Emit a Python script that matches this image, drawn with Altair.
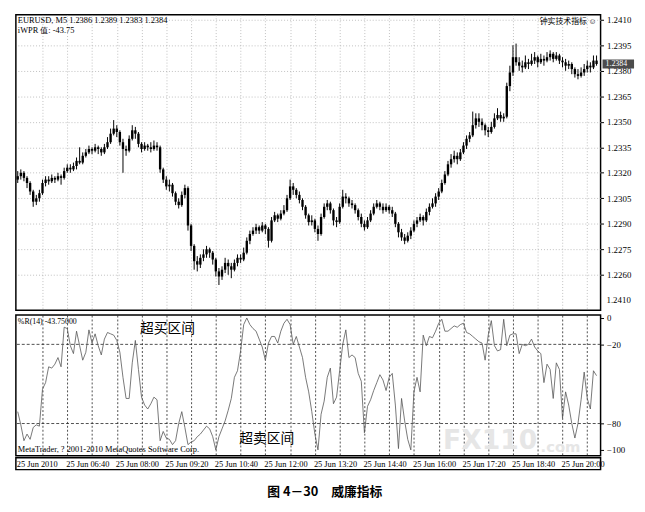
import altair as alt
import pandas as pd

SERIF = "Liberation Serif"
CJK = "Noto Sans CJK SC"

# EURUSD M5 candles, 25 Jun 2010 05:20 - 20:55
opens = [
    1.2316, 1.2318, 1.2320, 1.2317, 1.2314, 1.2309, 1.2303, 1.2305, 1.2308, 1.2314, 1.2316, 1.2315,
    1.2317, 1.2316, 1.2318, 1.2317, 1.2321, 1.2323, 1.2322, 1.2324, 1.2327, 1.2326, 1.2330, 1.2332,
    1.2334, 1.2333, 1.2335, 1.2334, 1.2332, 1.2335, 1.2338, 1.2343, 1.2346, 1.2344, 1.2338, 1.2334,
    1.2333, 1.2340, 1.2345, 1.2343, 1.2337, 1.2334, 1.2336, 1.2335, 1.2334, 1.2336, 1.2335, 1.2322,
    1.2316, 1.2312, 1.2313, 1.2308, 1.2303, 1.2301, 1.2307, 1.2311, 1.2289, 1.2277, 1.2268, 1.2266,
    1.2270, 1.2272, 1.2275, 1.2273, 1.2269, 1.2262, 1.2259, 1.2263, 1.2267, 1.2265, 1.2263, 1.2267,
    1.2270, 1.2269, 1.2273, 1.2280, 1.2284, 1.2286, 1.2288, 1.2286, 1.2289, 1.2287, 1.2280, 1.2292,
    1.2295, 1.2293, 1.2296, 1.2298, 1.2305, 1.2312, 1.2310, 1.2307, 1.2304, 1.2300, 1.2295, 1.2291,
    1.2292, 1.2287, 1.2284, 1.2294, 1.2300, 1.2302, 1.2298, 1.2292, 1.2291, 1.2300, 1.2306, 1.2305,
    1.2302, 1.2301, 1.2298, 1.2294, 1.2290, 1.2288, 1.2292, 1.2296, 1.2300, 1.2302, 1.2300, 1.2298,
    1.2300, 1.2298, 1.2296, 1.2290, 1.2285, 1.2282, 1.2280, 1.2283, 1.2286, 1.2290, 1.2292, 1.2294,
    1.2292, 1.2297, 1.2300, 1.2302, 1.2306, 1.2309, 1.2314, 1.2319, 1.2325, 1.2328, 1.2330, 1.2328,
    1.2332, 1.2336, 1.2340, 1.2342, 1.2348, 1.2352, 1.2350, 1.2348, 1.2345, 1.2344, 1.2347, 1.2352,
    1.2354, 1.2352, 1.2353, 1.2371, 1.2379, 1.2388, 1.2385, 1.2383, 1.2382, 1.2385, 1.2384, 1.2386,
    1.2388, 1.2385, 1.2387, 1.2386, 1.2388, 1.2390, 1.2387, 1.2389, 1.2386, 1.2385, 1.2383, 1.2384,
    1.2381, 1.2378, 1.2377, 1.2379, 1.2381, 1.2383, 1.2382, 1.2386,
]
highs = [
    1.2321, 1.2322, 1.2321, 1.2318, 1.2315, 1.2310, 1.2307, 1.2310, 1.2316, 1.2318, 1.2318, 1.2319,
    1.2318, 1.2320, 1.2319, 1.2323, 1.2325, 1.2325, 1.2326, 1.2329, 1.2335, 1.2332, 1.2334, 1.2336,
    1.2335, 1.2337, 1.2336, 1.2335, 1.2337, 1.2341, 1.2346, 1.2351, 1.2348, 1.2345, 1.2340, 1.2336,
    1.2342, 1.2348, 1.2347, 1.2344, 1.2338, 1.2338, 1.2337, 1.2338, 1.2339, 1.2338, 1.2336, 1.2323,
    1.2318, 1.2316, 1.2314, 1.2309, 1.2305, 1.2309, 1.2313, 1.2312, 1.2290, 1.2278, 1.2271, 1.2272,
    1.2275, 1.2277, 1.2276, 1.2274, 1.2270, 1.2264, 1.2265, 1.2270, 1.2269, 1.2267, 1.2269, 1.2272,
    1.2272, 1.2276, 1.2282, 1.2286, 1.2288, 1.2290, 1.2289, 1.2291, 1.2290, 1.2288, 1.2294, 1.2297,
    1.2296, 1.2298, 1.2301, 1.2307, 1.2316, 1.2314, 1.2311, 1.2309, 1.2305, 1.2301, 1.2296, 1.2295,
    1.2293, 1.2289, 1.2296, 1.2302, 1.2304, 1.2303, 1.2299, 1.2294, 1.2302, 1.2310, 1.2308, 1.2306,
    1.2304, 1.2302, 1.2299, 1.2296, 1.2292, 1.2294, 1.2298, 1.2302, 1.2304, 1.2303, 1.2302, 1.2302,
    1.2301, 1.2300, 1.2297, 1.2291, 1.2287, 1.2284, 1.2285, 1.2288, 1.2292, 1.2294, 1.2296, 1.2295,
    1.2299, 1.2302, 1.2305, 1.2308, 1.2311, 1.2316, 1.2321, 1.2327, 1.2331, 1.2333, 1.2332, 1.2334,
    1.2338, 1.2342, 1.2344, 1.2356, 1.2355, 1.2355, 1.2352, 1.2349, 1.2347, 1.2350, 1.2355, 1.2358,
    1.2356, 1.2355, 1.2373, 1.2383, 1.2395, 1.2396, 1.2388, 1.2386, 1.2389, 1.2387, 1.2390, 1.2391,
    1.2389, 1.2390, 1.2389, 1.2391, 1.2392, 1.2391, 1.2391, 1.2390, 1.2388, 1.2387, 1.2386, 1.2385,
    1.2382, 1.2381, 1.2382, 1.2384, 1.2386, 1.2385, 1.2389, 1.2389,
]
lows = [
    1.2314, 1.2316, 1.2315, 1.2311, 1.2307, 1.2300, 1.2301, 1.2303, 1.2307, 1.2312, 1.2313, 1.2314,
    1.2314, 1.2315, 1.2313, 1.2316, 1.2320, 1.2320, 1.2321, 1.2322, 1.2325, 1.2325, 1.2329, 1.2331,
    1.2331, 1.2332, 1.2331, 1.2330, 1.2331, 1.2334, 1.2337, 1.2342, 1.2341, 1.2336, 1.2320, 1.2330,
    1.2332, 1.2339, 1.2340, 1.2335, 1.2332, 1.2333, 1.2333, 1.2332, 1.2333, 1.2333, 1.2320, 1.2314,
    1.2310, 1.2309, 1.2306, 1.2301, 1.2299, 1.2300, 1.2305, 1.2286, 1.2274, 1.2263, 1.2262, 1.2264,
    1.2268, 1.2270, 1.2270, 1.2266, 1.2259, 1.2254, 1.2257, 1.2261, 1.2260, 1.2258, 1.2262, 1.2265,
    1.2267, 1.2268, 1.2272, 1.2278, 1.2283, 1.2284, 1.2284, 1.2285, 1.2284, 1.2276, 1.2279, 1.2291,
    1.2291, 1.2292, 1.2295, 1.2297, 1.2304, 1.2307, 1.2305, 1.2302, 1.2298, 1.2293, 1.2289, 1.2289,
    1.2285, 1.2280, 1.2283, 1.2293, 1.2298, 1.2296, 1.2289, 1.2288, 1.2290, 1.2299, 1.2302, 1.2300,
    1.2299, 1.2296, 1.2292, 1.2288, 1.2286, 1.2287, 1.2291, 1.2295, 1.2299, 1.2298, 1.2296, 1.2297,
    1.2296, 1.2294, 1.2288, 1.2282, 1.2280, 1.2278, 1.2279, 1.2281, 1.2285, 1.2288, 1.2291, 1.2289,
    1.2291, 1.2295, 1.2299, 1.2300, 1.2304, 1.2308, 1.2313, 1.2318, 1.2323, 1.2326, 1.2325, 1.2327,
    1.2331, 1.2334, 1.2338, 1.2341, 1.2346, 1.2347, 1.2345, 1.2342, 1.2341, 1.2343, 1.2346, 1.2351,
    1.2350, 1.2350, 1.2352, 1.2368, 1.2377, 1.2383, 1.2380, 1.2379, 1.2381, 1.2381, 1.2383, 1.2384,
    1.2382, 1.2384, 1.2383, 1.2385, 1.2386, 1.2385, 1.2386, 1.2384, 1.2382, 1.2380, 1.2381, 1.2378,
    1.2376, 1.2375, 1.2376, 1.2377, 1.2379, 1.2379, 1.2381, 1.2383,
]
closes = [
    1.2318, 1.2320, 1.2317, 1.2314, 1.2309, 1.2303, 1.2305, 1.2308, 1.2314, 1.2316, 1.2315, 1.2317,
    1.2316, 1.2318, 1.2317, 1.2321, 1.2323, 1.2322, 1.2324, 1.2327, 1.2326, 1.2330, 1.2332, 1.2334,
    1.2333, 1.2335, 1.2334, 1.2332, 1.2335, 1.2338, 1.2343, 1.2346, 1.2344, 1.2338, 1.2334, 1.2333,
    1.2340, 1.2345, 1.2343, 1.2337, 1.2334, 1.2336, 1.2335, 1.2334, 1.2336, 1.2335, 1.2322, 1.2316,
    1.2312, 1.2313, 1.2308, 1.2303, 1.2301, 1.2307, 1.2311, 1.2289, 1.2277, 1.2268, 1.2266, 1.2270,
    1.2272, 1.2275, 1.2273, 1.2269, 1.2262, 1.2259, 1.2263, 1.2267, 1.2265, 1.2263, 1.2267, 1.2270,
    1.2269, 1.2273, 1.2280, 1.2284, 1.2286, 1.2288, 1.2286, 1.2289, 1.2287, 1.2280, 1.2292, 1.2295,
    1.2293, 1.2296, 1.2298, 1.2305, 1.2312, 1.2310, 1.2307, 1.2304, 1.2300, 1.2295, 1.2291, 1.2292,
    1.2287, 1.2284, 1.2294, 1.2300, 1.2302, 1.2298, 1.2292, 1.2291, 1.2300, 1.2306, 1.2305, 1.2302,
    1.2301, 1.2298, 1.2294, 1.2290, 1.2288, 1.2292, 1.2296, 1.2300, 1.2302, 1.2300, 1.2298, 1.2300,
    1.2298, 1.2296, 1.2290, 1.2285, 1.2282, 1.2280, 1.2283, 1.2286, 1.2290, 1.2292, 1.2294, 1.2292,
    1.2297, 1.2300, 1.2302, 1.2306, 1.2309, 1.2314, 1.2319, 1.2325, 1.2328, 1.2330, 1.2328, 1.2332,
    1.2336, 1.2340, 1.2342, 1.2348, 1.2352, 1.2350, 1.2348, 1.2345, 1.2344, 1.2347, 1.2352, 1.2354,
    1.2352, 1.2353, 1.2371, 1.2379, 1.2388, 1.2385, 1.2383, 1.2382, 1.2385, 1.2384, 1.2386, 1.2388,
    1.2385, 1.2387, 1.2386, 1.2388, 1.2390, 1.2387, 1.2389, 1.2386, 1.2385, 1.2383, 1.2384, 1.2381,
    1.2378, 1.2377, 1.2379, 1.2381, 1.2383, 1.2382, 1.2386, 1.2384,
]
# Williams %R(14), one value per bar
wpr = [
    -71, -81, -93, -88, -92, -83, -81, -82, -54, -49, -37, -38,
    -35, -30, -37, -7, -8, -21, -27, -10, -21, -32, -26, -9,
    -19, -12, -21, -28, -16, -11, -12, -13, -17, -26, -45, -61,
    -61, -34, -17, -39, -60, -66, -69, -65, -60, -62, -93, -86,
    -91, -92, -96, -93, -80, -71, -83, -96, -94, -93, -90, -88,
    -85, -82, -84, -90, -100, -90, -84, -78, -70, -61, -45, -40,
    -25, -5, 0, -5, -8, -10, -16, -22, -32, -19, -14, -14,
    -19, -10, -4, -1, -5, -20, -14, -22, -30, -45, -56, -71,
    -88, -100, -73, -63, -45, -38, -65, -60, -40, -20, -9, -30,
    -28, -30, -42, -48, -87, -67, -62, -55, -49, -43, -47, -55,
    -45, -42, -66, -99, -61, -78, -92, -100, -56, -45, -56, -13,
    -21, -14, -15, -10, -4, -1, -10, -10, -8, -6, -7, -5,
    -4, -11, -12, -14, -16, -18, -19, -32, -13, -2, -21, -25,
    -24, -1, -21, -13, -12, -12, -27, -20, -21, -20, -16, -22,
    -25, -27, -49, -35, -39, -61, -34, -39, -76, -56, -66, -80,
    -91, -80, -62, -41, -61, -69, -40, -43.75,
]

price_ticks = [1.2410, 1.2395, 1.2380, 1.2365, 1.2350, 1.2335, 1.2320,
               1.2305, 1.2290, 1.2275, 1.2260]
wpr_ticks = [0, -20, -80, -100]
wpr_levels = [-20, -80]
grid_bars = [8, 16, 24, 32, 40, 48, 56, 64, 72, 80, 88, 96, 104, 112, 120,
             128, 136, 144, 152, 160, 168, 176, 184]
label_bars = [0, 16, 32, 48, 64, 80, 96, 112, 128, 144, 160, 176]
time_labels = ["25 Jun 2010", "25 Jun 06:40", "25 Jun 08:00", "25 Jun 09:20",
               "25 Jun 10:40", "25 Jun 12:00", "25 Jun 13:20", "25 Jun 14:40",
               "25 Jun 16:00", "25 Jun 17:20", "25 Jun 18:40", "25 Jun 20:00"]

W = 594
df = pd.DataFrame({
    "bar": list(range(len(closes))),
    "open": opens, "high": highs, "low": lows, "close": closes, "wpr": wpr,
})
last = df.iloc[-1]

xs = alt.Scale(domain=[-0.6, 188.3], nice=False, zero=False)
ys = alt.Scale(domain=[1.22392, 1.24129], nice=False, zero=False)
ws = alt.Scale(domain=[-104.5, 2.2], nice=False, zero=False)


def label(text, x, y, size=8.5, font=SERIF, color="black", **kw):
    return (
        alt.Chart(pd.DataFrame({"t": [text]}))
        .mark_text(x=x, y=y, align=kw.pop("align", "left"), baseline="middle",
                   fontSize=size, font=font, color=color, **kw)
        .encode(text="t:N")
    )


x_top = alt.Axis(values=grid_bars, grid=True, labels=False, ticks=False, domain=False,
                 title=None, gridColor="#b0b0b0", gridDash=[1, 2], gridWidth=0.8)
y_price = alt.Axis(orient="right", values=price_ticks, format=".4f", grid=True,
                   gridColor="#b0b0b0", gridDash=[1, 2], gridWidth=0.8, domain=False,
                   tickSize=3, tickColor="black", labelPadding=3, title=None,
                   labelOverlap=False, labelBound=False)

base = alt.Chart(df).encode(x=alt.X("bar:Q", scale=xs, axis=x_top))
wicks = base.mark_rule(color="black", strokeWidth=1).encode(
    y=alt.Y("low:Q", scale=ys, axis=y_price), y2="high:Q")
bodies = base.mark_rule(color="black", strokeWidth=2.4, strokeCap="butt").encode(
    y=alt.Y("open:Q", scale=ys, axis=y_price), y2="close:Q")

now = pd.DataFrame({"p": [last["close"]], "t": [f"{last['close']:.4f}"]})
marker = (
    alt.Chart(now)
    .mark_tick(orient="horizontal", size=32, thickness=9, color="black")
    .encode(x=alt.value(W + 18), y=alt.Y("p:Q", scale=ys, axis=y_price))
)
marker_txt = (
    alt.Chart(now)
    .mark_text(align="left", baseline="middle", fontSize=8, font=SERIF, color="white")
    .encode(x=alt.value(W + 5), y=alt.Y("p:Q", scale=ys, axis=y_price), text="t:N")
)

header = (f"EURUSD, M5   {last['open']:.4f} {last['high']:.4f} "
          f"{last['low']:.4f} {last['close']:.4f}")
top = alt.layer(
    wicks, bodies, marker, marker_txt,
    label(header, 2, 5),
    label(f"iWPR 值: {last['wpr']:.2f}", 2, 15),
    label("钟实技术指标 ☺", 590, 7, size=8, font=CJK, align="right"),
    label("1.2410", W + 6, 290, size=9),
).properties(width=W, height=300)

x_bot = alt.Axis(values=grid_bars, grid=True, labels=False, ticks=False, domain=False,
                 title=None, gridColor="#222", gridDash=[2, 2], gridWidth=0.8)
y_wpr = alt.Axis(orient="right", values=wpr_ticks, grid=False, domain=False,
                 tickSize=3, tickColor="black", labelPadding=3, title=None,
                 labelOverlap=False)

line = alt.Chart(df).mark_line(color="#555", strokeWidth=0.8).encode(
    x=alt.X("bar:Q", scale=xs, axis=x_bot),
    y=alt.Y("wpr:Q", scale=ws, axis=y_wpr),
)
levels = (
    alt.Chart(pd.DataFrame({"lvl": wpr_levels}))
    .mark_rule(color="#222", strokeDash=[3, 2], strokeWidth=0.8)
    .encode(y=alt.Y("lvl:Q", scale=ws, axis=y_wpr))
)
bottom = alt.layer(
    label("FX110", 434, 128, size=27, font="DejaVu Sans", color="#e6e6e6", fontWeight="bold"),
    label(".com", 533, 134, size=15, font="DejaVu Sans", color="#e6e6e6", fontWeight="bold"),
    levels, line,
    label(f"%R(14) {last['wpr']:.5f}", 2, 7, size=8),
    label("超买区间", 126, 14, size=14, font=CJK),
    label("超卖区间", 227, 126, size=14, font=CJK),
    label("MetaTrader, ? 2001-2010 MetaQuotes Software Corp.", 2, 136),
).properties(width=W, height=143)

strip = (
    alt.Chart(pd.DataFrame({"bar": label_bars, "lab": time_labels}))
    .mark_text(align="left", baseline="middle", fontSize=8.5, font=SERIF, dx=-1, y=6.5)
    .encode(x=alt.X("bar:Q", scale=xs, axis=None), text="lab:N")
    .properties(width=W, height=12)
)

chart = (
    alt.vconcat(top, alt.vconcat(bottom, strip, spacing=0), spacing=2)
    .properties(
        padding={"left": 6, "top": 2, "right": 2, "bottom": 4},
        title=alt.TitleParams("图 4－30　威廉指标", orient="bottom", anchor="middle",
                              font=CJK, fontSize=13, fontWeight="bold", offset=16,
                              color="black"),
    )
    .configure_view(stroke="black", strokeWidth=1.5)
    .configure_axis(labelFont=SERIF, labelFontSize=9, labelColor="black",
                    labelOverlap=False)
)

chart.save("out.html", embed_options={"renderer": "svg", "actions": False})
